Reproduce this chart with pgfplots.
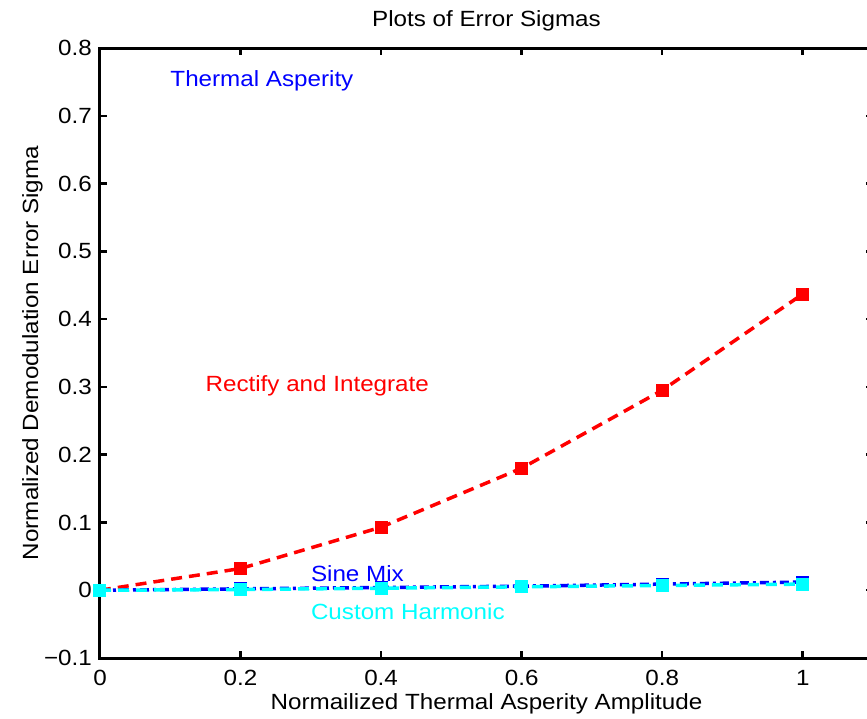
\documentclass[border=0pt]{standalone}
\usepackage{pgfplots}
\pgfplotsset{compat=1.18}
\usepackage{fontspec}
\setmainfont{Liberation Sans}[FakeStretch=1.1]
\definecolor{mcyan}{rgb}{0,1,1}
\definecolor{mblue}{rgb}{0,0,1}
\definecolor{mred}{rgb}{1,0,0}
\begin{document}
\begin{tikzpicture}
\begin{axis}[
  name=ax,
  scale only axis,
  width=773pt, height=610pt,
  xmin=0, xmax=1.1, ymin=-0.1, ymax=0.8,
  xtick={0,0.2,0.4,0.6,0.8,1},
  xticklabels={0,0.2,0.4,0.6,0.8,1},
  ytick={-0.1,0,0.1,0.2,0.3,0.4,0.5,0.6,0.7,0.8},
  yticklabels={−0.1,0,0.1,0.2,0.3,0.4,0.5,0.6,0.7,0.8},
  xtick pos=both, ytick pos=both,
  xticklabel pos=bottom, yticklabel pos=left,
  tick align=inside,
  major tick length=7pt,
  every tick/.style={black, line width=2.5pt},
  axis line style={line width=3pt},
  font=\fontsize{22}{26}\selectfont,
  xticklabel style={anchor=base, inner sep=0pt, yshift=-27pt},
  yticklabel style={anchor=east, inner sep=0pt, xshift=-8pt},
  title={Plots of Error Sigmas},
  title style={at={(axis description cs:0.5,1)}, anchor=base, yshift=16pt, inner sep=0pt},
  xlabel={Normailized Thermal Asperity Amplitude},
  xlabel style={at={(axis description cs:0.5,0)}, anchor=base, yshift=-51pt, inner sep=0pt},
  ylabel={Normalized Demodulation Error Sigma},
  ylabel style={at={(axis description cs:-0.0802,0.5)}, anchor=base, inner sep=0pt},
  clip=false,
]
\addplot[mred, line width=3.5pt, dash pattern=on 11pt off 7pt, mark=square*, mark size=6pt, mark options={solid, line width=1pt}]
  coordinates {(0,0) (0.2,0.032) (0.4,0.093) (0.6,0.180) (0.8,0.295) (1,0.437)};
\addplot[mblue, line width=3.5pt, dash pattern=on 9pt off 4pt on 3pt off 4pt, mark=square*, mark size=6pt, mark options={solid, line width=1pt}]
  coordinates {(0,0) (0.2,0.002) (0.4,0.004) (0.6,0.006) (0.8,0.009) (1,0.012)};
\addplot[mcyan, line width=3.5pt, dash pattern=on 11pt off 7pt, mark=square*, mark size=6pt, mark options={solid, line width=1pt}]
  coordinates {(0,0) (0.2,0.001) (0.4,0.003) (0.6,0.005) (0.8,0.007) (1,0.009)};
\node[mblue, anchor=west, inner sep=0pt] at (axis cs:0.1,0.752) {Thermal Asperity};
\node[mred, anchor=west, inner sep=0pt] at (axis cs:0.15,0.301) {Rectify and Integrate};
\node[mblue, anchor=west, inner sep=0pt] at (axis cs:0.3,0.025) {Sine Mix};
\node[mcyan, anchor=west, inner sep=0pt] at (axis cs:0.3,-0.031) {Custom Harmonic};
\end{axis}
\pgfresetboundingbox
\path[use as bounding box] ([xshift=-100pt,yshift=-60pt]ax.south west) rectangle ([xshift=767pt,yshift=658pt]ax.south west);
\end{tikzpicture}
\end{document}
